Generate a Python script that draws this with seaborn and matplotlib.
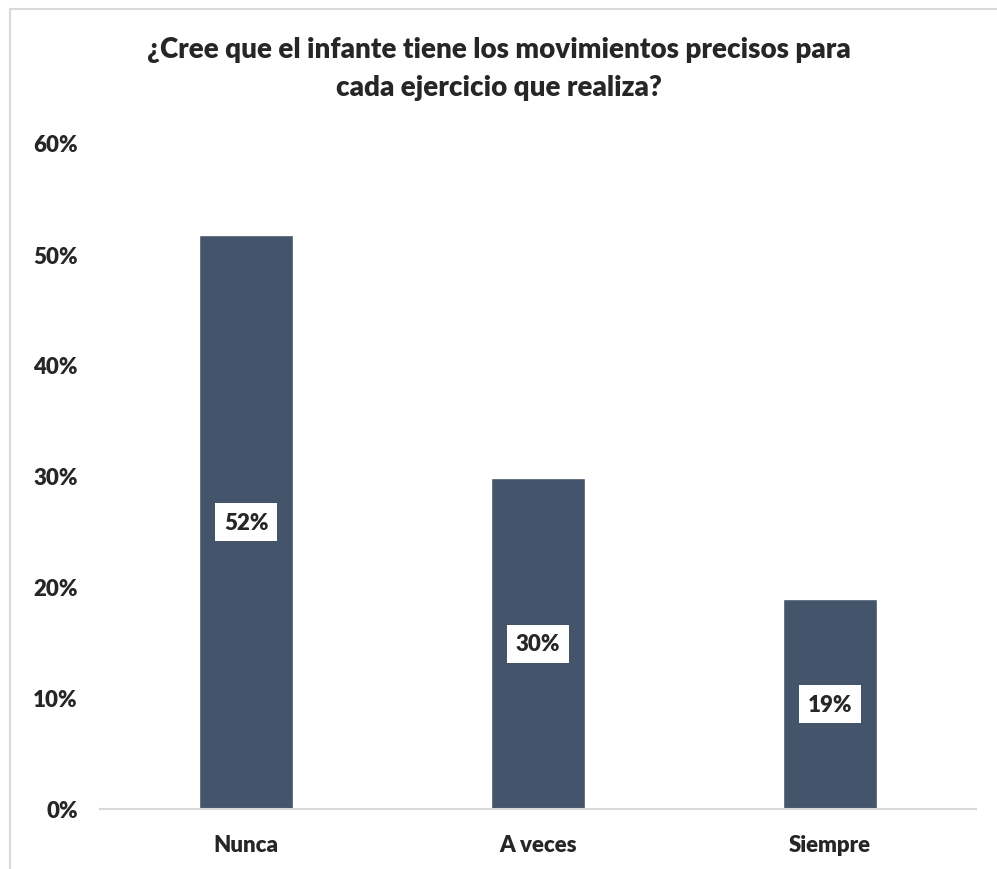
import matplotlib.pyplot as plt
import seaborn as sns
import pandas as pd
from matplotlib.patches import Rectangle
from matplotlib.ticker import PercentFormatter

# Data
categories = ["Nunca", "A veces", "Siempre"]
values = [51.7, 29.8, 18.9]
labels = ["52%", "30%", "19%"]

df = pd.DataFrame({"Respuesta": categories, "Porcentaje": values})

sns.set_style("white")
plt.rcParams["font.family"] = ["Lato", "DejaVu Sans"]

fig = plt.figure(figsize=(9.97, 8.70), dpi=100)
ax = fig.add_axes([100 / 997, 60 / 870, 876 / 997, 666 / 870])

sns.barplot(data=df, x="Respuesta", y="Porcentaje", color="#44546A",
            width=0.32, saturation=1, ax=ax)

ax.set_ylim(0, 60)
ax.set_yticks(range(0, 61, 10))
ax.yaxis.set_major_formatter(PercentFormatter(decimals=0))
ax.set_xlabel("")
ax.set_ylabel("")

for side in ["top", "right", "left"]:
    ax.spines[side].set_visible(False)
ax.spines["bottom"].set_color("#D9D9D9")
ax.spines["bottom"].set_linewidth(1.5)

ax.tick_params(axis="both", length=0, labelsize=16)
ax.tick_params(axis="y", pad=16)
ax.tick_params(axis="x", pad=18)
for t in ax.get_xticklabels() + ax.get_yticklabels():
    t.set_fontweight("heavy")

# value labels in white boxes
for bar, lab in zip(ax.patches, labels):
    ax.text(bar.get_x() + bar.get_width() / 2, bar.get_height() / 2, lab,
            ha="center", va="center", fontsize=16, fontweight="heavy",
            bbox=dict(facecolor="white", edgecolor="none", pad=6))

fig.text(0.5, 0.957, "¿Cree que el infante tiene los movimientos precisos para\ncada ejercicio que realiza?",
         ha="center", va="top", fontsize=20, fontweight="heavy", linespacing=1.55)

# chart border
fig.patches.append(Rectangle((10 / 997, -0.01), 1.0, 0.999, transform=fig.transFigure,
                             fill=False, edgecolor="#D9D9D9", linewidth=1.5))

fig.savefig("out.png", dpi=100)
